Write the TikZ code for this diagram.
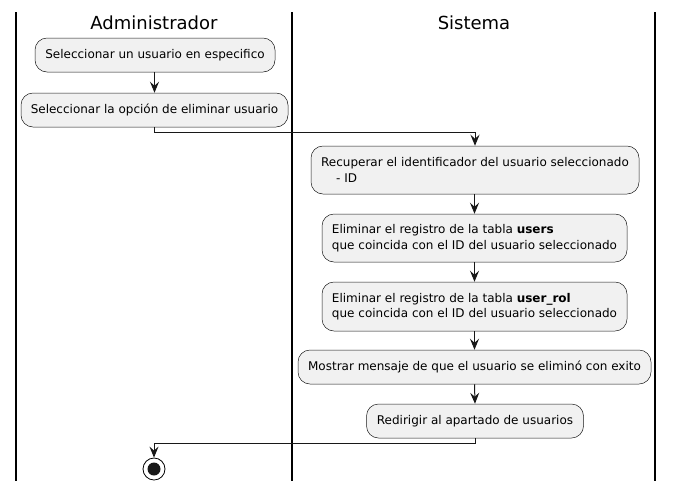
\documentclass[tikz,border=0pt]{standalone}
\usepackage{fontspec}
\setmainfont{DejaVu Sans}
\usetikzlibrary{arrows.meta}
\definecolor{actfill}{HTML}{F1F1F1}
\definecolor{ink}{HTML}{181818}
\tikzset{
  act/.style={draw=ink, line width=0.5pt, fill=actfill, rounded corners=12pt,
    font=\fontsize{12}{15.5}\selectfont, align=left, inner sep=0pt, text=black},
  lane/.style={line width=1.5pt, black},
  flow/.style={draw=ink, line width=1pt, -{Stealth[length=11pt,width=9pt,inset=4pt]}},
  title/.style={font=\fontsize{18}{20}\selectfont, anchor=base, inner sep=0pt},
}
\begin{document}
\begin{tikzpicture}[x=1pt,y=-1pt]
\useasboundingbox (0,0) rectangle (674,491);
% lanes
\draw[lane] (16,12) -- (16,481);
\draw[lane] (292,12) -- (292,481);
\draw[lane] (655,12) -- (655,481);
\node[title] (t1) at (154,29) {Administrador};
\node[title] (t2) at (474,29) {Sistema};
% activities
\node[act, minimum width=240pt, minimum height=34pt] (n1) at (155,55) {Seleccionar un usuario en especifico};
\node[act, minimum width=267pt, minimum height=34pt] (n2) at (154.5,110) {Seleccionar la opción de eliminar usuario};
\node[act, minimum width=328pt, minimum height=48pt] (n3) at (475,170) {Recuperar el identificador del usuario seleccionado\\\hspace*{15pt}- ID};
\node[act, minimum width=305pt, minimum height=48pt] (n4) at (474.5,238) {Eliminar el registro de la tabla \textbf{users}\\que coincida con el ID del usuario seleccionado};
\node[act, minimum width=305pt, minimum height=49pt] (n5) at (474.5,306.5) {Eliminar el registro de la tabla \textbf{user\_rol}\\que coincida con el ID del usuario seleccionado};
\node[act, minimum width=353pt, minimum height=34pt] (n6) at (474.5,367) {Mostrar mensaje de que el usuario se eliminó con exito};
\node[act, minimum width=217pt, minimum height=34pt] (n7) at (475,421) {Redirigir al apartado de usuarios};
% stop
\node[circle, draw=black, line width=0.8pt, fill=white, minimum size=22pt, inner sep=0pt] (stop) at (154,469) {};
\node[circle, fill=ink, minimum size=13pt, inner sep=0pt] (stopin) at (stop.center) {};
% connectors
\coordinate (c1) at (154.5,132);
\coordinate (c2) at (475,443.5);
\draw[flow] (n1.south -| n2.south) -- (n2.north);
\draw[flow] (n2.south) -- (c1) -- (c1 -| n3.north) -- (n3.north);
\draw[flow] (n3.south -| n4.north) -- (n4.north);
\draw[flow] (n4.south) -- (n5.north);
\draw[flow] (n5.south) -- (n6.north);
\draw[flow] (n6.south) -- (n7.north);
\draw[flow] (n7.south) -- (c2) -- (c2 -| stop.north) -- (stop.north);
\end{tikzpicture}
\end{document}
